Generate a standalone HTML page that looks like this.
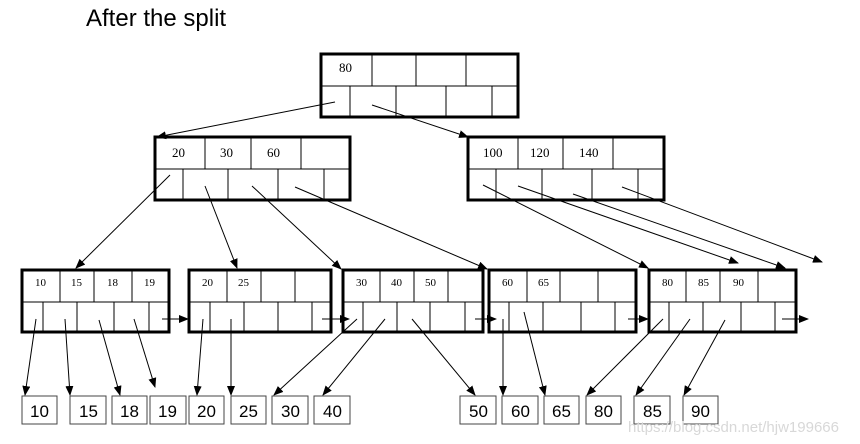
<!DOCTYPE html>
<html><head><meta charset="utf-8"><style>
html,body{margin:0;padding:0;background:#fff;}
svg{display:block;}
.n{font-family:"Liberation Serif",serif;font-size:13px;fill:#000;}
.s{font-family:"Liberation Serif",serif;font-size:11px;fill:#000;}
.b{font-family:"Liberation Sans",sans-serif;font-size:17px;fill:#000;}
</style></head><body>
<svg width="860" height="444" viewBox="0 0 860 444" xmlns="http://www.w3.org/2000/svg">
<defs><marker id="a" markerWidth="10" markerHeight="8" refX="9" refY="4" orient="auto" markerUnits="userSpaceOnUse"><path d="M0,0 L10,4 L0,8 z" fill="#000"/></marker></defs>
<text x="86" y="26" font-family="Liberation Sans,sans-serif" font-size="24">After the split</text>

<g fill="none" stroke="#000">
<!-- root -->
<rect x="321" y="54" width="197" height="63" stroke-width="3"/>
<line x1="321" y1="86" x2="518" y2="86"/>
<path d="M372 54V86M416 54V86M466 54V86M350 86V117M396 86V117M446 86V117M492 86V117"/>
<!-- L2 left -->
<rect x="155" y="137" width="195" height="63" stroke-width="3"/>
<line x1="155" y1="169" x2="350" y2="169"/>
<path d="M205 137V169M251 137V169M301 137V169M183 169V200M228 169V200M278 169V200M324 169V200"/>
<!-- L2 right -->
<rect x="468" y="137" width="196" height="63" stroke-width="3"/>
<line x1="468" y1="169" x2="664" y2="169"/>
<path d="M518 137V169M563 137V169M613 137V169M496 169V200M542 169V200M592 169V200M638 169V200"/>
<!-- leaves -->
<rect x="22" y="270" width="147" height="62" stroke-width="3"/>
<line x1="22" y1="302" x2="169" y2="302"/>
<path d="M60 270V302M94 270V302M132 270V302M43 302V332M77 302V332M114 302V332M149 302V332"/>
<rect x="189" y="270" width="142" height="62" stroke-width="3"/>
<line x1="189" y1="302" x2="331" y2="302"/>
<path d="M227 270V302M261 270V302M295 270V302M210 302V332M244 302V332M278 302V332M312 302V332"/>
<rect x="343" y="270" width="140" height="62" stroke-width="3"/>
<line x1="343" y1="302" x2="483" y2="302"/>
<path d="M380 270V302M414 270V302M448 270V302M363 302V332M397 302V332M430 302V332M465 302V332"/>
<rect x="489" y="270" width="147" height="62" stroke-width="3"/>
<line x1="489" y1="302" x2="636" y2="302"/>
<path d="M527 270V302M560 270V302M598 270V302M509 302V332M543 302V332M581 302V332M615 302V332"/>
<rect x="649" y="270" width="147" height="62" stroke-width="3"/>
<line x1="649" y1="302" x2="796" y2="302"/>
<path d="M686 270V302M720 270V302M758 270V302M669 302V332M703 302V332M741 302V332M775 302V332"/>
<!-- data boxes -->
<g stroke="#444">
<rect x="22" y="396" width="35" height="28"/><rect x="70" y="396" width="36" height="28"/>
<rect x="112" y="396" width="35" height="28"/><rect x="150" y="396" width="36" height="28"/>
<rect x="189" y="396" width="35" height="28"/><rect x="231" y="396" width="35" height="28"/>
<rect x="272" y="396" width="36" height="28"/><rect x="314" y="396" width="36" height="28"/>
<rect x="460" y="396" width="36" height="28"/><rect x="502" y="396" width="36" height="28"/>
<rect x="544" y="396" width="35" height="28"/><rect x="586" y="396" width="35" height="28"/>
<rect x="634" y="396" width="36" height="28"/><rect x="683" y="396" width="35" height="28"/>
</g>
</g>

<g stroke="#000" stroke-width="1" marker-end="url(#a)">
<line x1="335" y1="102" x2="157" y2="137"/>
<line x1="372" y1="105" x2="468" y2="137"/>
<line x1="170" y1="175" x2="76" y2="268"/>
<line x1="205" y1="186" x2="237" y2="268"/>
<line x1="252" y1="186" x2="341" y2="269"/>
<line x1="295" y1="187" x2="487" y2="269"/>
<line x1="483" y1="185" x2="648" y2="268"/>
<line x1="518" y1="186" x2="738" y2="263"/>
<line x1="573" y1="194" x2="785" y2="268"/>
<line x1="622" y1="187" x2="822" y2="262"/>
<line x1="36" y1="319" x2="25" y2="395"/>
<line x1="65" y1="319" x2="70" y2="395"/>
<line x1="99" y1="320" x2="120" y2="395"/>
<line x1="134" y1="319" x2="155" y2="387"/>
<line x1="162" y1="319" x2="188" y2="319"/>
<line x1="322" y1="319" x2="349" y2="319"/>
<line x1="475" y1="319" x2="496" y2="319"/>
<line x1="628" y1="319" x2="648" y2="319"/>
<line x1="782" y1="319" x2="808" y2="319"/>
<line x1="203" y1="319" x2="197" y2="395"/>
<line x1="231" y1="319" x2="231" y2="395"/>
<line x1="357" y1="319" x2="274" y2="395"/>
<line x1="385" y1="319" x2="323" y2="395"/>
<line x1="412" y1="319" x2="475" y2="395"/>
<line x1="503" y1="319" x2="503" y2="395"/>
<line x1="524" y1="312" x2="545" y2="395"/>
<line x1="663" y1="319" x2="587" y2="395"/>
<line x1="690" y1="319" x2="636" y2="395"/>
<line x1="725" y1="320" x2="684" y2="395"/>
</g>

<text class="n" x="339" y="72">80</text>
<text class="n" x="172" y="157">20</text>
<text class="n" x="220" y="157">30</text>
<text class="n" x="267" y="157">60</text>
<text class="n" x="483" y="157">100</text>
<text class="n" x="530" y="157">120</text>
<text class="n" x="579" y="157">140</text>
<text class="s" x="35" y="286">10</text><text class="s" x="71" y="286">15</text>
<text class="s" x="107" y="286">18</text><text class="s" x="144" y="286">19</text>
<text class="s" x="202" y="286">20</text><text class="s" x="238" y="286">25</text>
<text class="s" x="356" y="286">30</text><text class="s" x="391" y="286">40</text><text class="s" x="425" y="286">50</text>
<text class="s" x="502" y="286">60</text><text class="s" x="538" y="286">65</text>
<text class="s" x="662" y="286">80</text><text class="s" x="698" y="286">85</text><text class="s" x="733" y="286">90</text>

<text class="b" x="30" y="417">10</text><text class="b" x="79" y="417">15</text>
<text class="b" x="120" y="417">18</text><text class="b" x="158" y="417">19</text>
<text class="b" x="197" y="417">20</text><text class="b" x="239" y="417">25</text>
<text class="b" x="281" y="417">30</text><text class="b" x="323" y="417">40</text>
<text class="b" x="469" y="417">50</text><text class="b" x="511" y="417">60</text>
<text class="b" x="552" y="417">65</text><text class="b" x="594" y="417">80</text>
<text class="b" x="643" y="417">85</text><text class="b" x="691" y="417">90</text>

<text x="628" y="432" font-family="Liberation Sans,sans-serif" font-size="15" fill="#d8d8d8">https://blog.csdn.net/hjw199666</text>
</svg>
</body></html>
